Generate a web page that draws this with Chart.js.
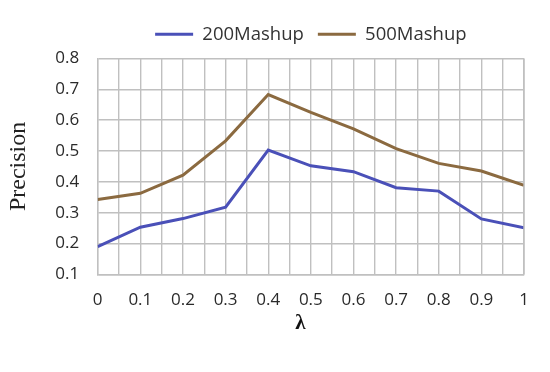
<!DOCTYPE html>
<html>
<head>
<meta charset="utf-8">
<script src="https://cdn.jsdelivr.net/npm/chart.js@4"></script>
<style>
html,body{margin:0;padding:0;background:#fff;}
#wrap{width:550px;height:372px;position:relative;}
</style>
</head>
<body>
<div id="wrap"><canvas id="c" width="550" height="372"></canvas></div>
<script>
const lambdas = [0, 0.1, 0.2, 0.3, 0.4, 0.5, 0.6, 0.7, 0.8, 0.9, 1];
const mashup200 = [0.19, 0.253, 0.281, 0.318, 0.503, 0.452, 0.433, 0.381, 0.37, 0.28, 0.251];
const mashup500 = [0.343, 0.363, 0.422, 0.533, 0.683, 0.625, 0.572, 0.508, 0.46, 0.435, 0.389];
const seriesNames = ['200Mashup', '500Mashup'];
const yTicks = [0.1, 0.2, 0.3, 0.4, 0.5, 0.6, 0.7, 0.8];

const blue = '#4a50b8';
const brown = '#8b6a40';

const toPts = (arr) => lambdas.map((x, i) => ({x: x, y: arr[i]}));

new Chart(document.getElementById('c'), {
  type: 'line',
  data: {
    datasets: [
      {label: seriesNames[0], data: toPts(mashup200), borderColor: blue, backgroundColor: blue, borderWidth: 3, pointRadius: 0, tension: 0},
      {label: seriesNames[1], data: toPts(mashup500), borderColor: brown, backgroundColor: brown, borderWidth: 3, pointRadius: 0, tension: 0}
    ]
  },
  options: {
    responsive: false,
    animation: false,
    layout: {padding: {left: 0, right: 26, top: 11, bottom: 32}},
    plugins: {
      legend: {
        position: 'top',
        labels: {
          boxWidth: 38,
          boxHeight: 3,
          padding: 14,
          color: '#333',
          font: {family: 'Open Sans', size: 18.5},
          generateLabels: (chart) => {
            const items = Chart.defaults.plugins.legend.labels.generateLabels(chart);
            items.forEach(it => { it.lineWidth = 0; });
            return items;
          }
        }
      },
      tooltip: {enabled: false}
    },
    scales: {
      x: {
        type: 'linear',
        min: 0, max: 1,
        ticks: {
          stepSize: 0.05,
          autoSkip: false,
          maxRotation: 0,
          padding: 16,
          color: '#2a2a2a',
          font: {family: 'Open Sans', size: 17},
          callback: (v) => {
            const r = Math.round(v * 100);
            return r % 10 === 0 ? String(r / 100) : '';
          }
        },
        grid: {color: '#c0c0c0', lineWidth: 1.4, drawTicks: false},
        border: {color: '#c0c0c0', width: 1.4},
        title: {display: true, text: 'λ    ', color: '#111', font: {family: 'Liberation Serif', size: 21, weight: 'bold'}, padding: {top: -16}}
      },
      y: {
        min: 0.1, max: 0.8,
        afterBuildTicks: (axis) => { axis.ticks = yTicks.map(v => ({value: v})); },
        ticks: {
          padding: 18.5,
          color: '#2a2a2a',
          font: {family: 'Open Sans', size: 17},
          callback: (v) => String(Math.round(v * 10) / 10)
        },
        grid: {color: '#c0c0c0', lineWidth: 1.4, drawTicks: false},
        border: {color: '#c0c0c0', width: 1.4},
        title: {display: true, text: 'Precision', color: '#222', font: {family: 'Liberation Serif', size: 24}, padding: {bottom: 4}}
      }
    }
  },
  plugins: [{
    id: 'tweaks',
    beforeInit(chart) {
      const lg = chart.legend;
      if (lg) {
        const origFit = lg.fit.bind(lg);
        lg.fit = function () { origFit(); this.height += 5; };
      }
    },
    afterLayout(chart) {
      const lg = chart.legend, a = chart.chartArea;
      if (lg) {
        const c = (a.left + a.right) / 2;
        const half = (lg.right - lg.left) / 2;
        lg.left = c - half; lg.right = c + half;
      }
    },
    afterDraw(chart) {
      const a = chart.chartArea, ctx = chart.ctx;
      ctx.save();
      ctx.strokeStyle = '#c0c0c0';
      ctx.lineWidth = 1.4;
      ctx.beginPath();
      ctx.moveTo(a.right, a.top); ctx.lineTo(a.right, a.bottom);
      ctx.stroke();
      ctx.restore();
    }
  }]
});
</script>
</body>
</html>
